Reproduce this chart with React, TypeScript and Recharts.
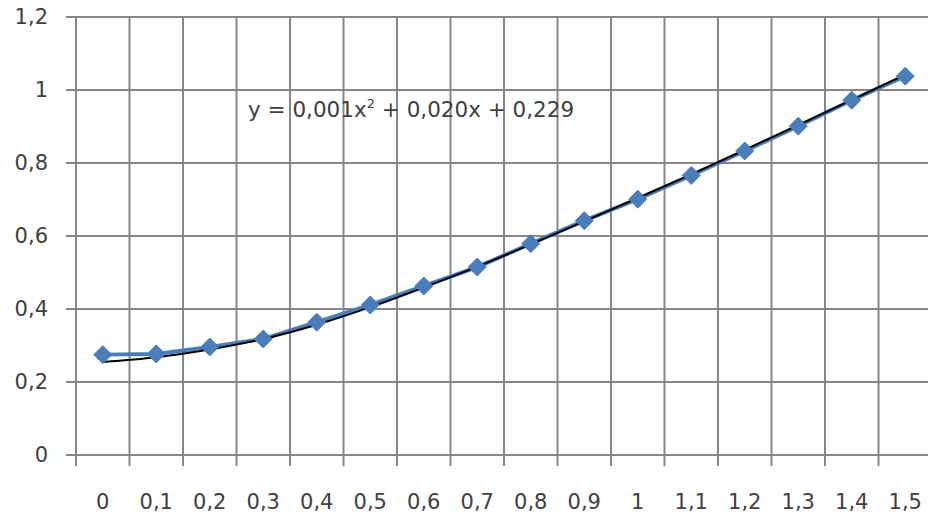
import React from 'react'
import { LineChart, Line, XAxis, YAxis, CartesianGrid, Customized } from 'recharts'

// categories on the x axis (Excel style, comma decimals)
const categories = ['0', '0,1', '0,2', '0,3', '0,4', '0,5', '0,6', '0,7', '0,8', '0,9', '1', '1,1', '1,2', '1,3', '1,4', '1,5']
// measured values (blue diamonds)
const measured = [0.275, 0.277, 0.296, 0.318, 0.364, 0.411, 0.463, 0.515, 0.579, 0.642, 0.701, 0.766, 0.833, 0.901, 0.972, 1.038]
// polynomial trendline
const trend = [0.255, 0.268, 0.289, 0.318, 0.357, 0.405, 0.459, 0.516, 0.577, 0.64, 0.704, 0.769, 0.836, 0.904, 0.973, 1.042]
const yTicks = [0, 0.2, 0.4, 0.6, 0.8, 1, 1.2]
const equation = { lead: 'y = 0,001x', sup: '2', tail: ' + 0,020x + 0,229' }

const data = categories.map((label, i) => ({ pos: i + 0.5, label, measured: measured[i], trend: trend[i] }))
const bounds = categories.map((_, i) => i).concat(categories.length)
const centers = categories.map((_, i) => i + 0.5)

const GRID = '#878787'
const BLUE = '#4a7ebb'
const TEXT = '#404040'
const FONT = 'DejaVu Sans, Verdana, sans-serif'

const fmtY = (v: number) => String(Math.round(v * 10) / 10).replace('.', ',')

function Diamond(props: any) {
  const { cx, cy } = props
  if (cx == null || cy == null) return null
  const r = 9
  return <polygon points={`${cx},${cy - r} ${cx + r},${cy} ${cx},${cy + r} ${cx - r},${cy}`} fill={BLUE} stroke={BLUE} strokeWidth={1} />
}

function XTick(props: any) {
  const { x, y, payload } = props
  return (
    <text x={x} y={y} textAnchor="middle" dominantBaseline="central" fontFamily={FONT} fontSize={21} fill={TEXT}>
      {categories[Math.floor(payload.value)]}
    </text>
  )
}

function YTick(props: any) {
  const { x, y, payload } = props
  return (
    <text x={x} y={y} textAnchor="end" dominantBaseline="central" fontFamily={FONT} fontSize={21} fill={TEXT}>
      {fmtY(payload.value)}
    </text>
  )
}

function Equation() {
  return (
    <text x={248} y={117} fontFamily={FONT} fontSize={21.5} fill={TEXT}>
      {equation.lead}
      <tspan dy={-9} fontSize={13}>{equation.sup}</tspan>
      <tspan dy={9}>{equation.tail}</tspan>
    </text>
  )
}

export default function App() {
  return (
    <div style={{ position: 'absolute', left: 0, top: 0, width: 928, height: 518, overflow: 'hidden', background: '#fff' }}>
      <LineChart width={940} height={518} data={data} margin={{ top: 17, right: 8, left: 0, bottom: 0 }}>
        <CartesianGrid xAxisId="grid" stroke={GRID} strokeWidth={2} />
        <XAxis
          xAxisId="grid"
          type="number"
          dataKey="pos"
          domain={[0, categories.length]}
          ticks={bounds}
          interval={0}
          height={11}
          tickSize={11}
          tickLine={{ stroke: GRID, strokeWidth: 2 }}
          axisLine={{ stroke: GRID, strokeWidth: 2 }}
          tickFormatter={() => ''}
        />
        <XAxis
          xAxisId="lab"
          type="number"
          dataKey="pos"
          domain={[0, categories.length]}
          ticks={centers}
          interval={0}
          height={52}
          tickSize={0}
          tickMargin={36}
          tickLine={false}
          axisLine={false}
          tick={<XTick />}
        />
        <YAxis
          type="number"
          domain={[0, 1.2]}
          ticks={yTicks}
          interval={0}
          width={76}
          tickSize={10}
          tickMargin={18}
          tickLine={{ stroke: GRID, strokeWidth: 2 }}
          axisLine={{ stroke: GRID, strokeWidth: 2 }}
          tick={<YTick />}
        />
        <Line xAxisId="grid" type="linear" dataKey="measured" stroke={BLUE} strokeWidth={4} dot={<Diamond />} isAnimationActive={false} />
        <Line xAxisId="grid" type="monotone" dataKey="trend" stroke="#000" strokeWidth={2} dot={false} isAnimationActive={false} />
        <Customized component={Equation} />
      </LineChart>
    </div>
  )
}
